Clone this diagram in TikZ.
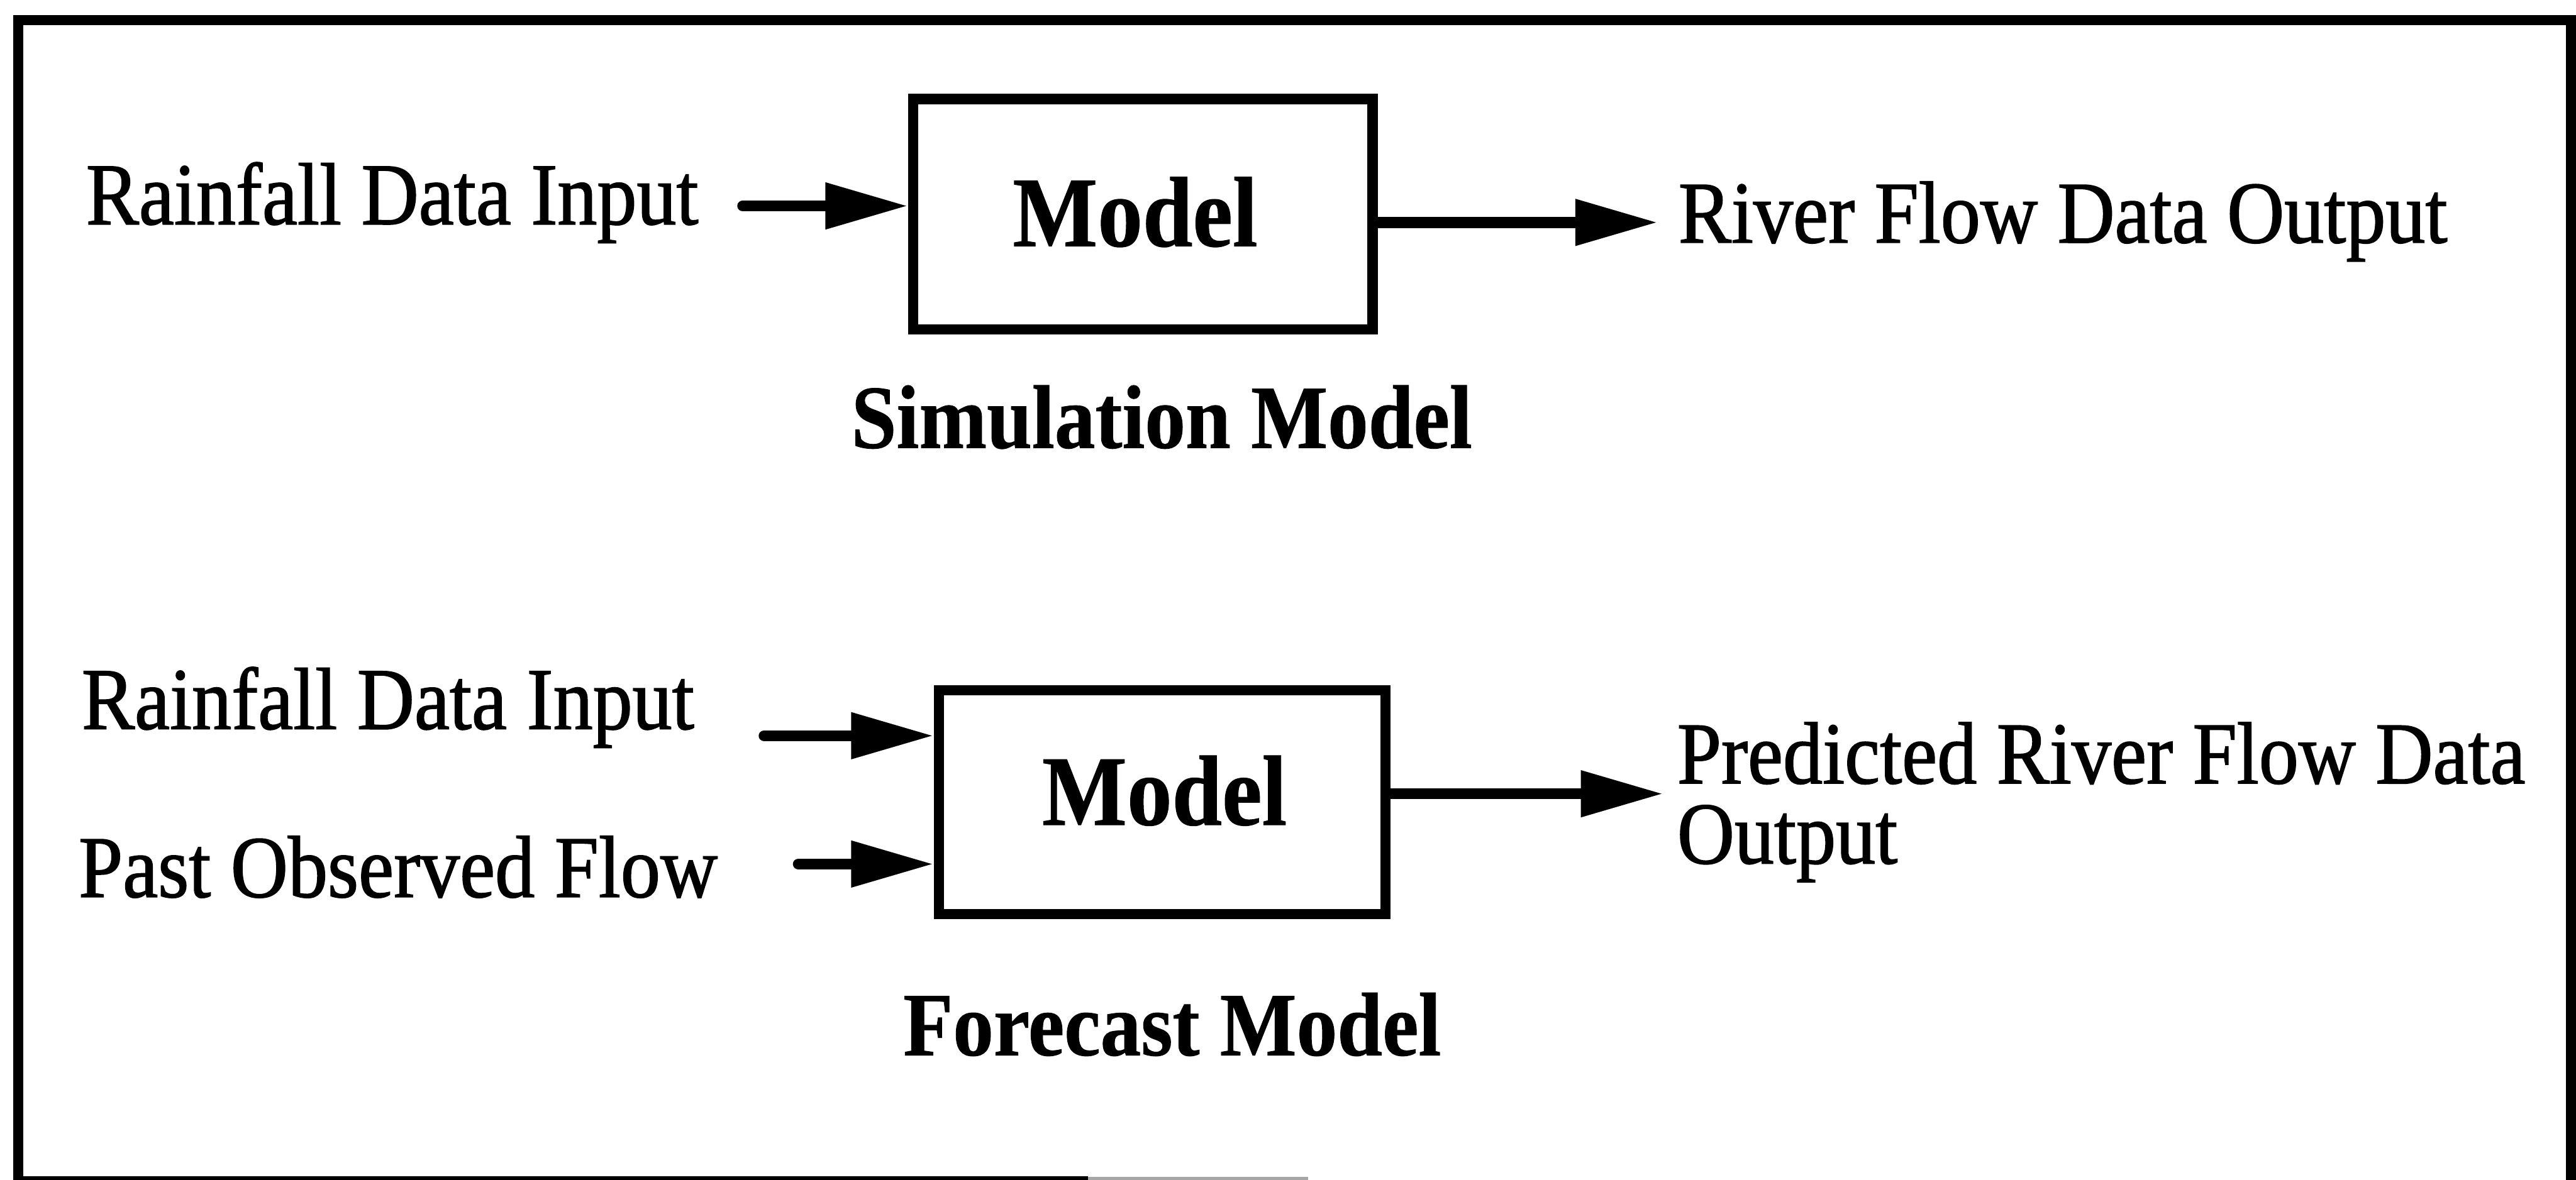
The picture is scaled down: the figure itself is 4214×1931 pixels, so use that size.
\documentclass[tikz,border=0pt]{standalone}
\usepackage{fontspec}
\setmainfont{Liberation Serif}[FakeStretch=0.9, UprightFeatures={FakeBold=1.2}, BoldFeatures={FakeBold=0.6}]
\usetikzlibrary{arrows.meta}
\begin{document}
\begin{tikzpicture}[x=0.01cm,y=-0.01cm,
  lbl/.style={anchor=base west, inner sep=0pt, font=\fontsize{41}{49}\selectfont},
  captext/.style={anchor=base west, inner sep=0pt, font=\bfseries\fontsize{42}{50}\selectfont},
  boxtext/.style={anchor=base, inner sep=0pt, font=\bfseries\fontsize{46.5}{55}\selectfont},
  modelbox/.style={draw, line width=4.8pt, inner sep=0pt, rectangle},
  flow/.style={line width=5.1pt, line cap=round, -{Triangle[length=13.5mm,width=7.2mm]}},
  framestyle/.style={line width=4.8pt}]
\useasboundingbox (0,0) rectangle (4214,1931);
% frame
\draw[framestyle] (30,1931) -- (30,33) -- (4206,33) -- (4206,1931);
\draw[line width=2.5pt] (22,1929) -- (1780,1929);
\draw[line width=1.5pt, black!35] (1780,1929) -- (2140,1929);
% simulation model
\node[modelbox, minimum width=7.51cm, minimum height=3.77cm] (b1) at (1869.5,350.5) {};
\node[boxtext] (m1) at (1857,403) {Model};
\node[lbl] (rd1) at (140,367) {Rainfall Data Input};
\node[lbl] (rfo) at (2745,397) {River Flow Data Output};
\node[captext] (sim) at (1392,733) {Simulation Model};
\coordinate (s1) at (1215,337);
\coordinate (t1) at (2712,364);
\draw[flow] (s1) -- (b1.west |- s1);
\draw[flow] (b1.east |- t1) -- (t1);
% forecast model
\node[modelbox, minimum width=7.30cm, minimum height=3.66cm] (b2) at (1901,1313) {};
\node[boxtext] (m2) at (1905,1350) {Model};
\node[lbl] (rd2) at (133,1193) {Rainfall Data Input};
\node[lbl] (pof) at (128,1468) {Past Observed Flow};
\node[lbl] (prf) at (2743,1282) {Predicted River Flow Data};
\node[lbl] (prf2) at (2743,1413) {Output};
\node[captext] (fc) at (1477,1727) {Forecast Model};
\coordinate (s2) at (1250,1204);
\coordinate (s3) at (1306,1414);
\coordinate (t2) at (2721,1299);
\draw[flow] (s2) -- (b2.west |- s2);
\draw[flow] (s3) -- (b2.west |- s3);
\draw[flow] (b2.east |- t2) -- (t2);
\end{tikzpicture}
\end{document}
